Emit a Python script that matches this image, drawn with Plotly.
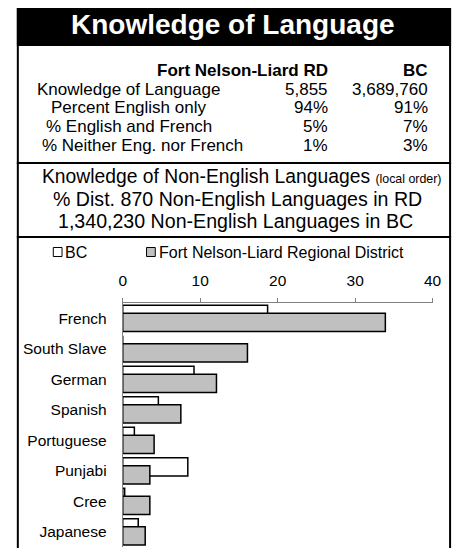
import plotly.graph_objects as go

W, H = 462, 548          # window size
OFF = 8                  # default body margin of the html page
FW, FH = W - OFF, H - OFF  # figure size so that it fits the window exactly
FONT = "Liberation Sans, Arial, sans-serif"

# ---- data ----
title = "Knowledge of Language"
col_headers = ["Fort Nelson-Liard RD", "BC"]
row_labels = ["Knowledge of Language", "Percent English only", "% English and French", "% Neither Eng. nor French"]
rd_values = ["5,855", "94%", "5%", "1%"]
bc_values = ["3,689,760", "91%", "7%", "3%"]
sub_lines = ["% Dist. 870 Non-English Languages in RD", "1,340,230 Non-English Languages in BC"]

series_names = ["BC", "Fort Nelson-Liard Regional District"]
series_colors = ["white", "#c0c0c0"]
languages = ["French", "South Slave", "German", "Spanish", "Portuguese", "Punjabi", "Cree", "Japanese"]
bc_pct = [18.7, 0.0, 9.2, 4.6, 1.5, 8.4, 0.25, 2.0]
rd_pct = [33.9, 16.1, 12.1, 7.5, 4.05, 3.5, 3.5, 2.9]
x_ticks = [0, 10, 20, 30, 40]


def px(x):
    return (x - OFF) / FW


def py(y):
    return 1 - (y - OFF) / FH


fig = go.Figure()
fig.add_trace(go.Bar(
    name=series_names[0], y=languages, x=bc_pct, orientation="h",
    width=0.6, offset=-0.43,
    marker=dict(color=series_colors[0], line=dict(color="black", width=1.5)),
))
fig.add_trace(go.Bar(
    name=series_names[1], y=languages, x=rd_pct, orientation="h",
    width=0.6, offset=-0.165,
    marker=dict(color=series_colors[1], line=dict(color="black", width=1.5)),
))

shapes = []
# black title bar
shapes.append(dict(type="rect", xref="paper", yref="paper", x0=px(13), x1=px(460), y0=py(46), y1=py(5),
                   fillcolor="black", line=dict(width=0), layer="below"))
# outer frame verticals
for xv in (14, 459):
    shapes.append(dict(type="line", xref="paper", yref="paper", x0=px(xv), x1=px(xv), y0=py(5), y1=py(H + 2),
                       line=dict(color="black", width=2)))
# separators
for yv in (163, 237):
    shapes.append(dict(type="line", xref="paper", yref="paper", x0=px(13), x1=px(460), y0=py(yv), y1=py(yv),
                       line=dict(color="black", width=2)))

ann = []
ann.append(dict(text="<b>%s</b>" % title, x=px(236), y=py(25), xref="paper", yref="paper",
                xanchor="center", yanchor="middle", showarrow=False,
                font=dict(family=FONT, size=28, color="white")))
ann.append(dict(text="<b>%s</b>" % col_headers[0], x=px(335), y=py(70), xref="paper", yref="paper",
                xanchor="right", yanchor="middle", showarrow=False, font=dict(family=FONT, size=17, color="black")))
ann.append(dict(text="<b>%s</b>" % col_headers[1], x=px(438), y=py(70), xref="paper", yref="paper",
                xanchor="right", yanchor="middle", showarrow=False, font=dict(family=FONT, size=17, color="black")))
row_y = [89, 107, 126, 145]
row_cx = [128, 128, 128, 142]
for lab, rv, bv, yy, cx in zip(row_labels, rd_values, bc_values, row_y, row_cx):
    ann.append(dict(text=lab, x=px(cx), y=py(yy), xref="paper", yref="paper", xanchor="center",
                    yanchor="middle", showarrow=False, font=dict(family=FONT, size=17, color="black")))
    ann.append(dict(text=rv, x=px(335), y=py(yy), xref="paper", yref="paper", xanchor="right",
                    yanchor="middle", showarrow=False, font=dict(family=FONT, size=17, color="black")))
    ann.append(dict(text=bv, x=px(438), y=py(yy), xref="paper", yref="paper", xanchor="right",
                    yanchor="middle", showarrow=False, font=dict(family=FONT, size=17, color="black")))

ann.append(dict(text="Knowledge of Non-English Languages <span style='font-size:12.4px'>(local order)</span>",
                x=px(244), y=py(177), xref="paper", yref="paper", xanchor="center", yanchor="middle",
                showarrow=False, font=dict(family=FONT, size=19.3, color="black")))
ann.append(dict(text=sub_lines[0], x=px(240), y=py(199), xref="paper", yref="paper", xanchor="center",
                yanchor="middle", showarrow=False, font=dict(family=FONT, size=19.6, color="black")))
ann.append(dict(text=sub_lines[1], x=px(238), y=py(221), xref="paper", yref="paper", xanchor="center",
                yanchor="middle", showarrow=False, font=dict(family=FONT, size=19.6, color="black")))

# legend keys (manual, to match the compact original layout)
legend_key_x = [55, 151]
legend_y = 252
for name, col, kx in zip(series_names, series_colors, legend_key_x):
    shapes.append(dict(type="rect", xref="paper", yref="paper", x0=px(kx - 4.5), x1=px(kx + 4.5),
                       y0=py(legend_y + 4.5), y1=py(legend_y - 4.5), fillcolor=col,
                       line=dict(color="black", width=1)))
    ann.append(dict(text=name, x=px(kx + 6), y=py(legend_y), xref="paper", yref="paper", xanchor="left",
                    yanchor="middle", showarrow=False, font=dict(family=FONT, size=16, color="black")))

fig.update_layout(
    width=FW, height=FH,
    margin=dict(l=0, r=0, t=0, b=0),
    paper_bgcolor="white", plot_bgcolor="white",
    barmode="overlay",
    showlegend=False,
    font=dict(family=FONT, color="black"),
    xaxis=dict(domain=[px(122), px(441)], range=[0, 40], side="top", tickvals=x_ticks,
               showgrid=False, zeroline=False, showline=True, linecolor="#808080", linewidth=1,
               ticks="outside", ticklen=4, tickcolor="#808080", tickfont=dict(family=FONT, size=15.5, color="black"),
               ticklabelstandoff=6, fixedrange=True),
    yaxis=dict(domain=[py(547), py(303)], range=[7.5, -0.5], showgrid=False, zeroline=False,
               showline=True, linecolor="#808080", linewidth=1, ticks="",
               tickfont=dict(family=FONT, size=15.5, color="black"), ticklabelstandoff=12, fixedrange=True),
    shapes=shapes, annotations=ann,
)

fig.write_html("out.html")
